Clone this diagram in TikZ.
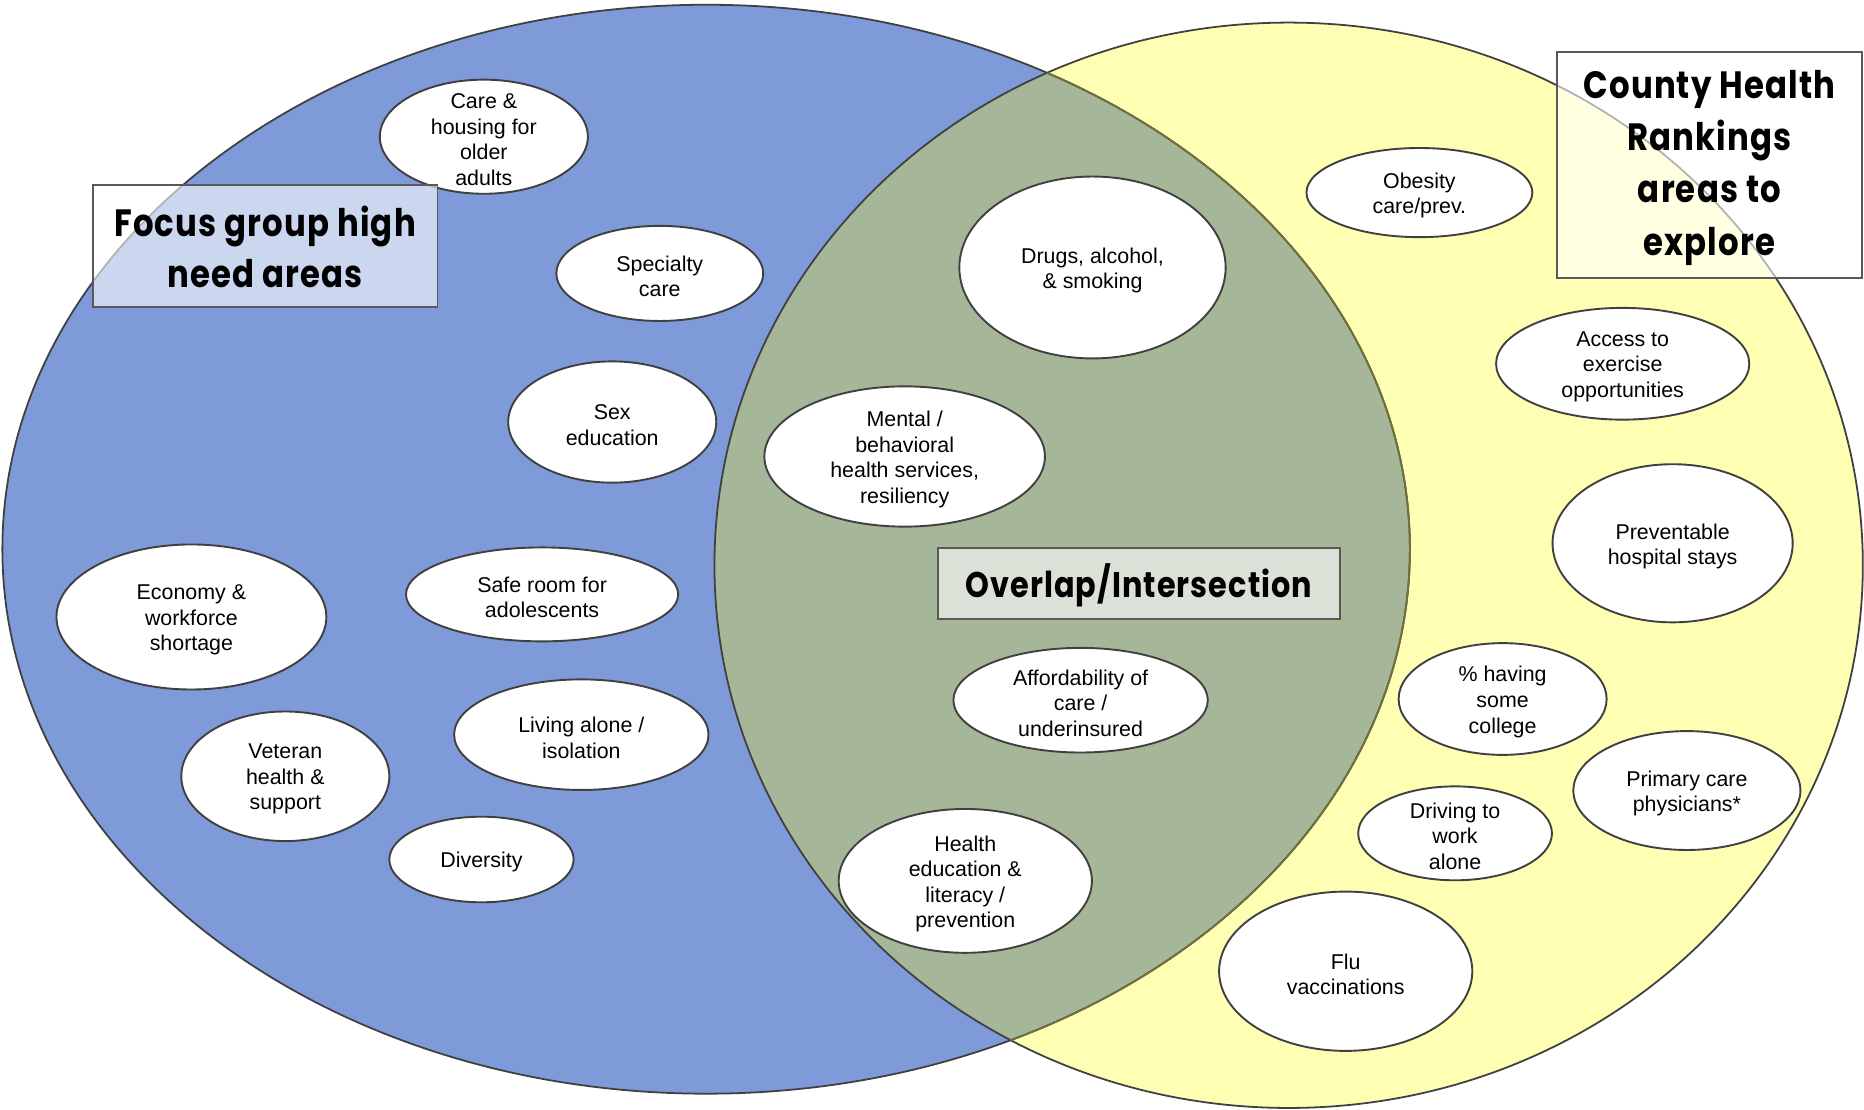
\documentclass[tikz,border=0pt]{standalone}
\usepackage{fontspec}
\setmainfont{Liberation Sans}
\newfontfamily\titlefont[FakeStretch=0.85,LetterSpace=3]{Poppins}
\usetikzlibrary{shapes.geometric}
\definecolor{vblue}{RGB}{127,154,216}
\definecolor{vyellow}{RGB}{255,255,180}
\definecolor{vovl}{RGB}{166,182,153}
\definecolor{vline}{RGB}{64,64,64}
\definecolor{volive}{RGB}{112,112,62}
\definecolor{vbox}{RGB}{89,89,89}
\tikzset{
  bub/.style={ellipse, draw=vline, line width=1.6pt, fill=white, inner sep=0pt},
  btxt/.style={align=center, inner sep=0pt, yshift=-2.5pt, font=\fontsize{18}{21.5}\selectfont},
  tbox/.style={rectangle, draw=vbox, line width=1.6pt, fill=white, fill opacity=0.6, text opacity=1, inner sep=0pt},
  ttxt/.style={align=center, inner sep=0pt, font=\titlefont\bfseries\fontsize{32}{43}\selectfont},
}
\begin{document}
\begin{tikzpicture}[x=1pt,y=-1pt]
\useasboundingbox (0,0) rectangle (1568,933.7);
% big ellipses
\fill[vblue] (594,462) ellipse [x radius=592pt, y radius=458pt];
\fill[vyellow] (1084,475.5) ellipse [x radius=483pt, y radius=456.5pt];
\begin{scope}
  \clip (594,462) ellipse [x radius=592pt, y radius=458pt];
  \fill[vovl] (1084,475.5) ellipse [x radius=483pt, y radius=456.5pt];
\end{scope}
\draw[vline, line width=1.5pt] (1084,475.5) ellipse [x radius=483pt, y radius=456.5pt];
\draw[vline, line width=1.5pt] (594,462) ellipse [x radius=592pt, y radius=458pt];
\begin{scope}
  \clip (1084,475.5) ellipse [x radius=483pt, y radius=456.5pt];
  \draw[volive, line width=1.5pt] (594,462) ellipse [x radius=592pt, y radius=458pt];
\end{scope}
% bubbles: left
\node[bub, minimum width=175pt, minimum height=96pt] (care) at (407,115) {};
\node[btxt] (care-t) at (care) {Care \&\\housing for\\older\\adults};
\node[bub, minimum width=174pt, minimum height=80pt] (spec) at (555,230) {};
\node[btxt] (spec-t) at (spec) {Specialty\\care};
\node[bub, minimum width=175pt, minimum height=102pt] (sex) at (515,355) {};
\node[btxt] (sex-t) at (sex) {Sex\\education};
\node[bub, minimum width=227pt, minimum height=122pt] (econ) at (161,519) {};
\node[btxt] (econ-t) at (econ) {Economy \&\\workforce\\shortage};
\node[bub, minimum width=229pt, minimum height=79pt] (safe) at (456,500) {};
\node[btxt] (safe-t) at (safe) {Safe room for\\adolescents};
\node[bub, minimum width=214pt, minimum height=93pt] (live) at (489,618) {};
\node[btxt] (live-t) at (live) {Living alone /\\isolation};
\node[bub, minimum width=175pt, minimum height=109pt] (vet) at (240,653) {};
\node[btxt] (vet-t) at (vet) {Veteran\\health \&\\support};
\node[bub, minimum width=155pt, minimum height=72pt] (div) at (405,723) {};
\node[btxt] (div-t) at (div) {Diversity};
% bubbles: overlap
\node[bub, minimum width=224pt, minimum height=153pt] (drug) at (919,225) {};
\node[btxt] (drug-t) at (drug) {Drugs, alcohol,\\\& smoking};
\node[bub, minimum width=236pt, minimum height=118pt] (ment) at (761,384) {};
\node[btxt] (ment-t) at (ment) {Mental /\\behavioral\\health services,\\resiliency};
\node[bub, minimum width=214pt, minimum height=88pt] (aff) at (909,589) {};
\node[btxt] (aff-t) at (aff) {Affordability of\\care /\\underinsured};
\node[bub, minimum width=213pt, minimum height=121pt] (hed) at (812,741) {};
\node[btxt] (hed-t) at (hed) {Health\\education \&\\literacy /\\prevention};
% bubbles: right
\node[bub, minimum width=190pt, minimum height=75pt] (obes) at (1194,162) {};
\node[btxt] (obes-t) at (obes) {Obesity\\care/prev.};
\node[bub, minimum width=213pt, minimum height=94pt] (acc) at (1365,306) {};
\node[btxt] (acc-t) at (acc) {Access to\\exercise\\opportunities};
\node[bub, minimum width=202pt, minimum height=133pt] (prev) at (1407,457) {};
\node[btxt] (prev-t) at (prev) {Preventable\\hospital stays};
\node[bub, minimum width=175pt, minimum height=94pt] (coll) at (1264,588) {};
\node[btxt] (coll-t) at (coll) {\% having\\some\\college};
\node[bub, minimum width=191pt, minimum height=100pt] (prim) at (1419,665) {};
\node[btxt] (prim-t) at (prim) {Primary care\\physicians*};
\node[bub, minimum width=163pt, minimum height=79pt] (drive) at (1224,701) {};
\node[btxt] (drive-t) at (drive) {Driving to\\work\\alone};
\node[bub, minimum width=213pt, minimum height=134pt] (flu) at (1132,817) {};
\node[btxt] (flu-t) at (flu) {Flu\\vaccinations};
% title boxes
\node[tbox, minimum width=290pt, minimum height=102pt] (fg) at (223,207) {};
\node[ttxt] (fg-t) at (223,208) {Focus group high\\need areas};
\node[tbox, minimum width=256pt, minimum height=190pt] (chr) at (1438,139) {};
\node[ttxt, font=\titlefont\bfseries\fontsize{32}{44}\selectfont] (chr-t) at (1438,141) {County Health\\Rankings\\areas to\\explore};
\node[tbox, minimum width=338pt, minimum height=60pt] (ovl) at (958,491) {};
\node[ttxt, font=\titlefont\bfseries\fontsize{30}{40}\selectfont] (ovl-t) at (958,492) {Overlap/Intersection};
\end{tikzpicture}
\end{document}
